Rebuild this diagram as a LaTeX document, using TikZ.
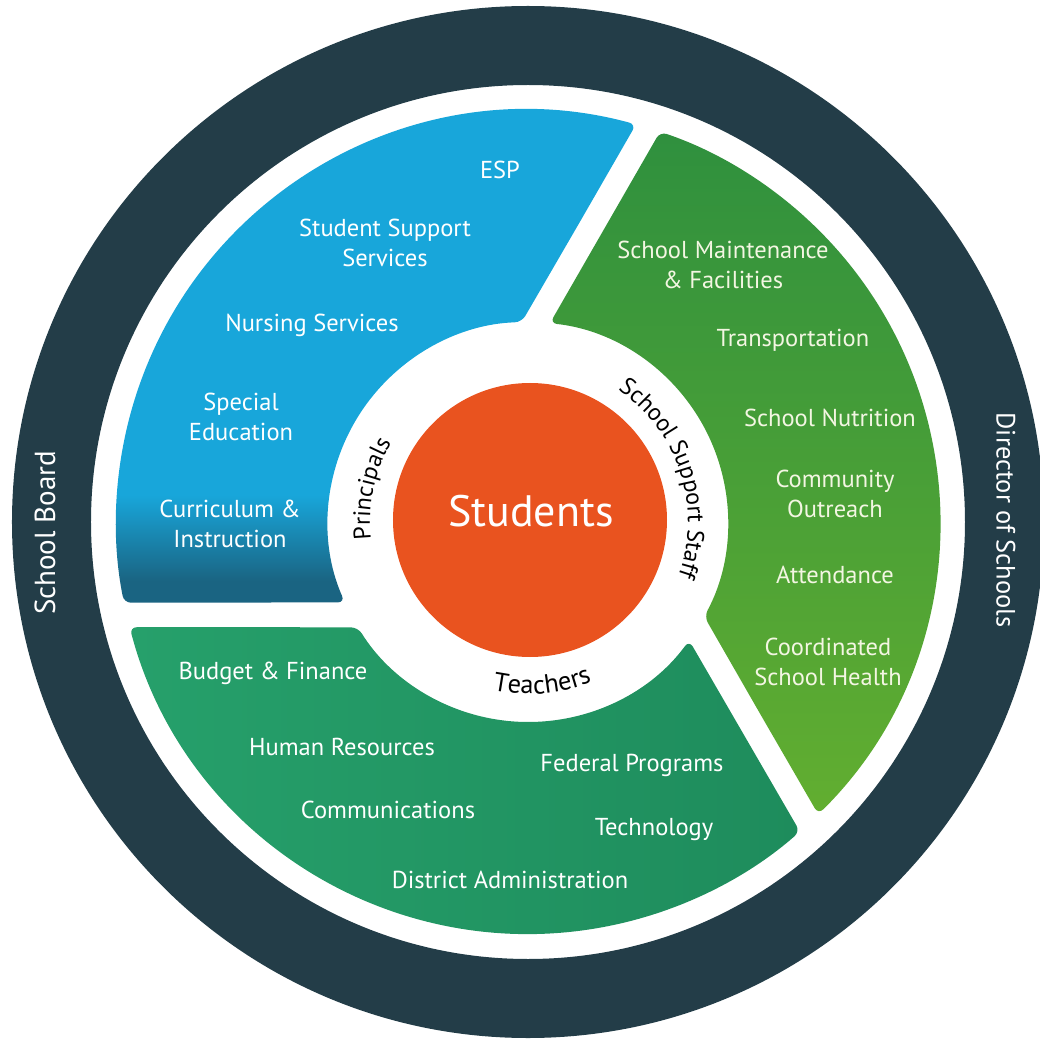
\documentclass[tikz,border=0pt]{standalone}
\usepackage{fontspec}
\setmainfont{PT Sans}
\usetikzlibrary{decorations.text}

\definecolor{ringdark}{HTML}{233D48}
\definecolor{segblue}{HTML}{18A6DA}
\definecolor{segbluedark}{HTML}{1A6482}
\definecolor{seggreentop}{HTML}{2F903E}
\definecolor{seggreenbot}{HTML}{62AE30}
\definecolor{segteal}{HTML}{26A06B}
\definecolor{segtealdark}{HTML}{1E8C5C}
\definecolor{studorange}{HTML}{E9531F}
\definecolor{greentext}{HTML}{F3F6E2}

% blue fades to dark at its bottom edge
\pgfdeclareverticalshading{bluefade}{100bp}{color(0bp)=(segbluedark); color(25bp)=(segbluedark); color(27bp)=(segbluedark); color(35bp)=(segblue); color(100bp)=(segblue)}

\newcommand{\ringfont}{\fontsize{24}{28}\selectfont}

\begin{document}
\begin{tikzpicture}[x=1pt, y=1pt,
    item/.style={text=white, align=center, font=\fontsize{24.5}{30}\selectfont},
    gitem/.style={item, text=greentext},
    board/.style={text=white, font=\fontsize{26.5}{30}\selectfont},
    ringtext/.style={decoration={text along path, text align=center, text={#1}}, decorate}]

    \useasboundingbox (-528,-525) rectangle (512,522);

    % outer ring
    \fill[ringdark, even odd rule] (0,0) circle[radius=516] (0,0) circle[radius=437];
    \node[board, font=\fontsize{29}{30}\selectfont, rotate=90] (board) at (-483,-11) {School Board};
    \node[board, rotate=-90] (director) at (478,2) {Director of Schools};

    % blue segment
    \shade[shading=bluefade, rounded corners=7pt] (80.3:303) -- (74.8:412)
        arc[start angle=74.8, end angle=191.3, radius=412] -- (203.7:200)
        arc[start angle=203.7, end angle=91.8, radius=200] -- cycle;

    % green segment
    \shade[top color=seggreentop, bottom color=seggreenbot, rounded corners=7pt] (320.3:303) -- (314.8:412)
        arc[start angle=314.8, end angle=431.3, radius=412] -- (443.7:200)
        arc[start angle=443.7, end angle=331.8, radius=200] -- cycle;

    % teal segment
    \shade[left color=segteal, right color=segtealdark, rounded corners=7pt] (200.3:303) -- (194.8:412)
        arc[start angle=194.8, end angle=311.3, radius=412] -- (323.7:200)
        arc[start angle=323.7, end angle=211.8, radius=200] -- cycle;

    % students
    \node[circle, fill=studorange, minimum size=274pt, inner sep=0pt] (core) at (2,2) {};
    \node[text=white, font=\fontsize{44}{46}\selectfont] (students) at (3,11) {Students};

    % ring labels
    \path[ringtext={|\ringfont|Principals}] (198:158) arc[start angle=198, end angle=138, radius=158];
    \path[ringtext={|\ringfont|School Support Staff}] (75:160) arc[start angle=75, end angle=-39, radius=160];
    \path[ringtext={|\fontsize{26.5}{28}\selectfont|Teachers}] (-125:172) arc[start angle=-125, end angle=-45, radius=172];

    % blue items
    \node[item] (esp) at (-28,352) {ESP};
    \node[item] (support) at (-143,279) {Student Support\\Services};
    \node[item] (nursing) at (-216,197) {Nursing Services};
    \node[item] (special) at (-287,105) {Special\\Education};
    \node[item] (curriculum) at (-298,-2) {Curriculum \&\\Instruction};

    % green items
    \node[gitem] (maintenance) at (195,257) {School Maintenance\\\& Facilities};
    \node[gitem] (transport) at (265,182) {Transportation};
    \node[gitem] (nutrition) at (302,104) {School Nutrition};
    \node[gitem] (outreach) at (307,28) {Community\\Outreach};
    \node[gitem] (attendance) at (307,-53) {Attendance};
    \node[gitem] (health) at (300,-140) {Coordinated\\School Health};

    % teal items
    \node[item] (budget) at (-255,-151) {Budget \& Finance};
    \node[item] (hr) at (-186,-225) {Human Resources};
    \node[item] (comms) at (-140,-288) {Communications};
    \node[item] (district) at (-18,-358) {District Administration};
    \node[item] (federal) at (104,-243) {Federal Programs};
    \node[item] (tech) at (126,-308) {Technology};
\end{tikzpicture}
\end{document}
